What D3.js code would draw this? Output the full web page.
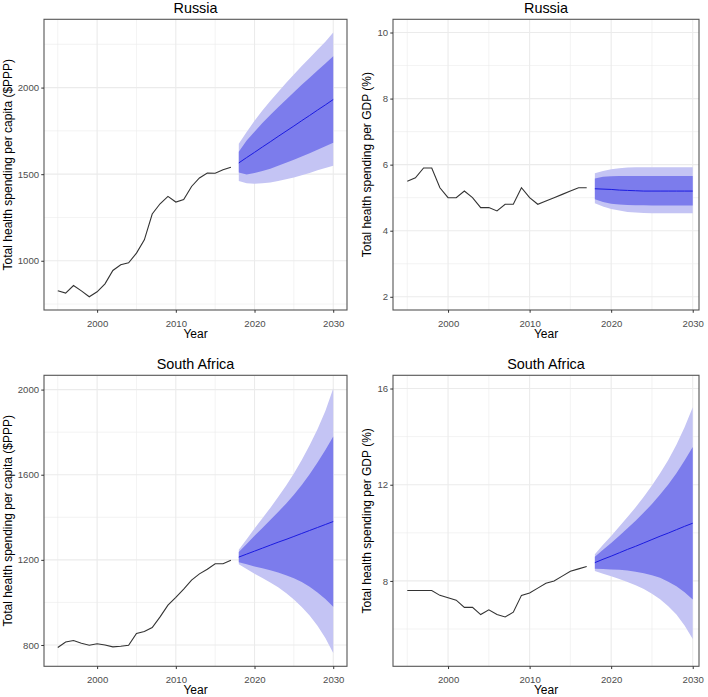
<!DOCTYPE html>
<html><head><meta charset="utf-8">
<script src="https://cdn.jsdelivr.net/npm/d3@7"></script>
<style>
body{margin:0;background:#fff}
svg{display:block}
text{font-family:"Liberation Sans",Arial,sans-serif}
</style>
</head><body>
<svg id="c" width="708" height="697"></svg>
<script>
// ---------- data ----------
const histYears = [1995,1996,1997,1998,1999,2000,2001,2002,2003,2004,2005,2006,2007,2008,2009,2010,2011,2012,2013,2014,2015,2016,2017];
const fcYears   = [2018,2019,2020,2021,2022,2023,2024,2025,2026,2027,2028,2029,2030];
const xTicks = [2000,2010,2020,2030];
const xMinor = [1995,2005,2015,2025];

// Russia, per capita ($PPP)
const ruPcHist = [827,813,857,826,792,821,867,944,977,988,1044,1121,1270,1329,1372,1339,1353,1429,1478,1507,1505,1526,1540];
const ruPcMean = [1565,1596,1626,1657,1687,1718,1748,1778,1809,1839,1870,1900,1931];
const ruPcHi80 = [1629,1694,1745,1795,1842,1887,1930,1973,2016,2057,2099,2139,2181];
const ruPcLo80 = [1510,1498,1507,1519,1532,1549,1566,1583,1602,1621,1641,1661,1681];
const ruPcHi95 = [1675,1744,1808,1867,1922,1975,2026,2075,2124,2171,2218,2264,2318];
const ruPcLo95 = [1460,1448,1444,1447,1452,1461,1470,1481,1494,1507,1522,1536,1548];
const ruPcTicks = [1000,1500,2000];
const ruPcMinor = [750,1250,1750,2250];

// Russia, % GDP
const ruGdpHist = [5.5,5.6,5.9,5.9,5.3,5.0,5.0,5.2,5.0,4.7,4.7,4.6,4.8,4.8,5.3,5.0,4.8,4.9,5.0,5.1,5.2,5.3,5.3];
const ruGdpMean = [5.27,5.26,5.25,5.23,5.22,5.21,5.20,5.20,5.20,5.20,5.20,5.20,5.20];
const ruGdpHi80 = [5.58,5.63,5.65,5.66,5.66,5.66,5.66,5.66,5.66,5.66,5.66,5.66,5.66];
const ruGdpLo80 = [4.95,4.87,4.82,4.79,4.78,4.77,4.77,4.76,4.76,4.76,4.76,4.76,4.76];
const ruGdpHi95 = [5.74,5.81,5.86,5.89,5.91,5.92,5.92,5.92,5.92,5.92,5.92,5.92,5.92];
const ruGdpLo95 = [4.83,4.73,4.66,4.61,4.57,4.55,4.54,4.53,4.53,4.53,4.53,4.53,4.53];
const ruGdpTicks = [2,4,6,8,10];
const ruGdpMinor = [3,5,7,9];
const ruGdpLimits = [2,10];

// South Africa, per capita ($PPP)
const zaPcHist = [788,814,821,808,799,806,800,791,794,799,854,863,882,932,987,1024,1063,1105,1134,1156,1182,1182,1198];
const zaPcMean = [1213,1227,1241,1255,1269,1283,1296,1310,1324,1338,1352,1366,1380];
const zaPcHi80 = [1237,1275,1313,1350,1387,1425,1464,1506,1552,1602,1657,1716,1780];
const zaPcLo80 = [1189,1179,1169,1160,1151,1141,1128,1114,1096,1074,1047,1016,980];
const zaPcHi95 = [1247,1297,1347,1395,1444,1495,1548,1606,1669,1738,1814,1899,2005];
const zaPcLo95 = [1179,1157,1135,1115,1094,1071,1044,1014,979,938,890,833,762];
const zaPcTicks = [800,1200,1600,2000];
const zaPcMinor = [1000,1400,1800];

// South Africa, % GDP
const zaGdpHist = [7.6,7.6,7.6,7.6,7.4,7.3,7.2,6.9,6.9,6.6,6.8,6.6,6.5,6.7,7.4,7.5,7.7,7.9,8.0,8.2,8.4,8.5,8.6];
const zaGdpMean = [8.76,8.90,9.03,9.17,9.31,9.44,9.58,9.72,9.86,9.99,10.13,10.27,10.40];
const zaGdpHi80 = [9.01,9.30,9.58,9.88,10.19,10.50,10.84,11.20,11.59,12.01,12.48,13.01,13.57];
const zaGdpLo80 = [8.51,8.50,8.48,8.46,8.43,8.38,8.32,8.24,8.13,7.97,7.78,7.53,7.23];
const zaGdpHi95 = [9.11,9.50,9.87,10.26,10.66,11.06,11.50,11.97,12.48,13.03,13.66,14.39,15.22];
const zaGdpLo95 = [8.41,8.30,8.19,8.08,7.96,7.82,7.66,7.47,7.24,6.95,6.60,6.15,5.58];
const zaGdpTicks = [8,12,16];
const zaGdpMinor = [6,10,14];
const zaGdpLimits = [5,16];

const titles = ["Russia","Russia","South Africa","South Africa"];
const yLabels = ["Total health spending per capita ($PPP)","Total health spending per GDP (%)",
                 "Total health spending per capita ($PPP)","Total health spending per GDP (%)"];

// ---------- layout ----------
const panels = [
  {hist:ruPcHist, mean:ruPcMean, hi80:ruPcHi80, lo80:ruPcLo80, hi95:ruPcHi95, lo95:ruPcLo95,
   ticks:ruPcTicks, minor:ruPcMinor, limits:null,
   left:44, right:347, xEnd:347, top:19.3, bottom:310, ylabX:11.5},
  {hist:ruGdpHist, mean:ruGdpMean, hi80:ruGdpHi80, lo80:ruGdpLo80, hi95:ruGdpHi95, lo95:ruGdpLo95,
   ticks:ruGdpTicks, minor:ruGdpMinor, limits:ruGdpLimits,
   left:393, right:699, xEnd:707, top:19.3, bottom:310, ylabX:370.5},
  {hist:zaPcHist, mean:zaPcMean, hi80:zaPcHi80, lo80:zaPcLo80, hi95:zaPcHi95, lo95:zaPcLo95,
   ticks:zaPcTicks, minor:zaPcMinor, limits:null,
   left:44, right:347, xEnd:347, top:375.3, bottom:666.3, ylabX:11.5},
  {hist:zaGdpHist, mean:zaGdpMean, hi80:zaGdpHi80, lo80:zaGdpLo80, hi95:zaGdpHi95, lo95:zaGdpLo95,
   ticks:zaGdpTicks, minor:zaGdpMinor, limits:zaGdpLimits,
   left:393, right:699, xEnd:707, top:375.3, bottom:666.3, ylabX:370.5}
];

const svg = d3.select("#c");
const fmt = d3.format("d");

panels.forEach((p, i) => {
  const xLim = d3.extent(histYears.concat(fcYears));
  const xPad = (xLim[1]-xLim[0])*0.05;
  const x = d3.scaleLinear().domain([xLim[0]-xPad, xLim[1]+xPad]).range([p.left, p.xEnd]);
  let yLim = p.limits ? p.limits.slice()
    : [d3.min(p.hist.concat(p.lo95)), d3.max(p.hist.concat(p.hi95))];
  const yPad = (yLim[1]-yLim[0])*0.05;
  const y = d3.scaleLinear().domain([yLim[0]-yPad, yLim[1]+yPad]).range([p.bottom, p.top]);

  const g = svg.append("g");
  const clipId = "clip"+i;
  svg.append("clipPath").attr("id", clipId).append("rect")
    .attr("x", p.left).attr("y", p.top).attr("width", p.right-p.left).attr("height", p.bottom-p.top);
  const pg = g.append("g").attr("clip-path", `url(#${clipId})`);

  // grid
  pg.selectAll(".ymin").data(p.minor).join("line")
    .attr("x1", p.left).attr("x2", p.right).attr("y1", d=>y(d)).attr("y2", d=>y(d))
    .attr("stroke", "#EBEBEB").attr("stroke-width", 0.6);
  pg.selectAll(".xmin").data(xMinor).join("line")
    .attr("y1", p.top).attr("y2", p.bottom).attr("x1", d=>x(d)).attr("x2", d=>x(d))
    .attr("stroke", "#EBEBEB").attr("stroke-width", 0.6);
  pg.selectAll(".ymaj").data(p.ticks).join("line")
    .attr("x1", p.left).attr("x2", p.right).attr("y1", d=>y(d)).attr("y2", d=>y(d))
    .attr("stroke", "#EBEBEB").attr("stroke-width", 1.1);
  pg.selectAll(".xmaj").data(xTicks).join("line")
    .attr("y1", p.top).attr("y2", p.bottom).attr("x1", d=>x(d)).attr("x2", d=>x(d))
    .attr("stroke", "#EBEBEB").attr("stroke-width", 1.1);

  // bands
  const fc = fcYears.map((yr, k) => ({yr, m:p.mean[k], l8:p.lo80[k], h8:p.hi80[k], l9:p.lo95[k], h9:p.hi95[k]}));
  pg.append("path").datum(fc)
    .attr("d", d3.area().x(d=>x(d.yr)).y0(d=>y(d.l9)).y1(d=>y(d.h9)))
    .attr("fill", "#C4C4F4");
  pg.append("path").datum(fc)
    .attr("d", d3.area().x(d=>x(d.yr)).y0(d=>y(d.l8)).y1(d=>y(d.h8)))
    .attr("fill", "#7C7CEC");
  pg.append("path").datum(fc)
    .attr("d", d3.line().x(d=>x(d.yr)).y(d=>y(d.m)))
    .attr("fill", "none").attr("stroke", "#1B1BE0").attr("stroke-width", 1);

  // history
  const hd = histYears.map((yr,k)=>({yr, v:p.hist[k]}));
  pg.append("path").datum(hd)
    .attr("d", d3.line().x(d=>x(d.yr)).y(d=>y(d.v)))
    .attr("fill", "none").attr("stroke", "#333333").attr("stroke-width", 1.1);

  // border
  g.append("rect").attr("x", p.left).attr("y", p.top)
    .attr("width", p.right-p.left).attr("height", p.bottom-p.top)
    .attr("fill", "none").attr("stroke", "#555555").attr("stroke-width", 1.1);

  // axes
  const ax = g.append("g").attr("transform", `translate(0,${p.bottom})`)
    .call(d3.axisBottom(x).tickValues(xTicks).tickFormat(fmt).tickSize(2.75).tickPadding(2.2));
  ax.select(".domain").remove();
  ax.selectAll("line").attr("stroke", "#333333");
  ax.selectAll("text").attr("font-size", 9.6).attr("fill", "#4D4D4D")
    .attr("font-family", '"Liberation Sans",Arial,sans-serif').attr("y", 17).attr("dy", null);

  const ay = g.append("g").attr("transform", `translate(${p.left},0)`)
    .call(d3.axisLeft(y).tickValues(p.ticks).tickFormat(fmt).tickSize(2.75).tickPadding(2.2));
  ay.select(".domain").remove();
  ay.selectAll("line").attr("stroke", "#333333");
  ay.selectAll("text").attr("font-size", 9.6).attr("fill", "#4D4D4D")
    .attr("font-family", '"Liberation Sans",Arial,sans-serif');

  // titles
  g.append("text").attr("x", (p.left+p.right)/2).attr("y", p.top-6.5)
    .attr("text-anchor", "middle").attr("font-size", 14.4).attr("fill", "#000")
    .text(titles[i]);
  g.append("text").attr("x", (p.left+p.right)/2).attr("y", p.bottom+28)
    .attr("text-anchor", "middle").attr("font-size", 12).attr("fill", "#000")
    .text("Year");
  g.append("text")
    .attr("transform", `translate(${p.ylabX},${(p.top+p.bottom)/2}) rotate(-90)`)
    .attr("text-anchor", "middle").attr("font-size", 12).attr("fill", "#000")
    .text(yLabels[i]);
});
</script>
</body></html>
